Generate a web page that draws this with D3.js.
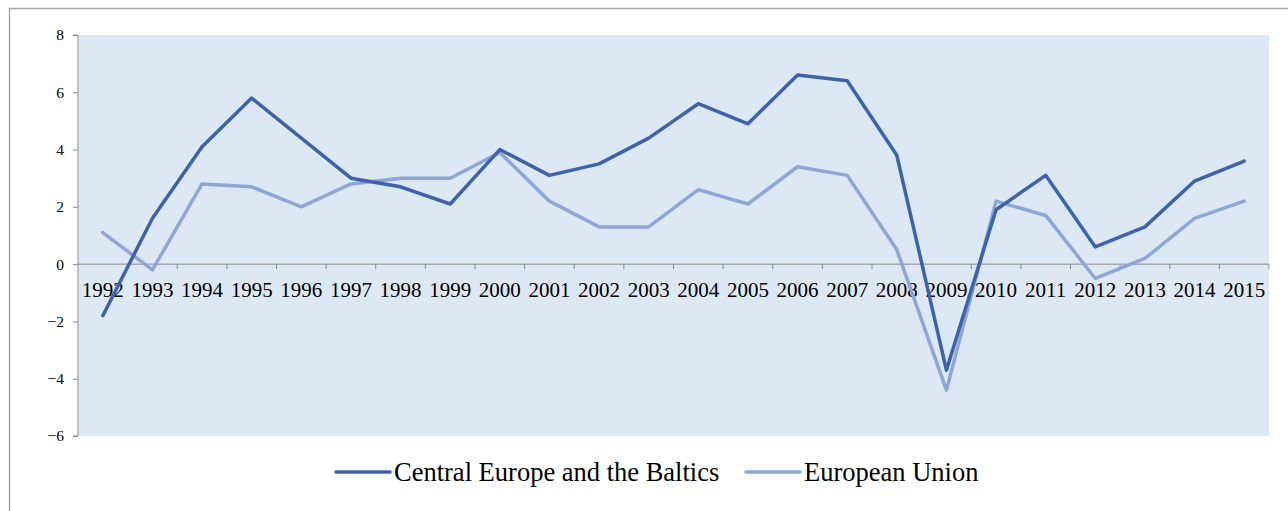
<!DOCTYPE html>
<html>
<head>
<meta charset="utf-8">
<script src="https://cdn.jsdelivr.net/npm/d3@7"></script>
<style>
  body { margin: 0; background: #fff; }
  svg { display: block; }
  svg text { font-family: "Liberation Serif", "Times New Roman", serif; fill: #000; }
</style>
</head>
<body>
<svg id="chart" width="1288" height="511"></svg>
<script>
// years on the category axis
var years = ["1992","1993","1994","1995","1996","1997","1998","1999","2000","2001","2002","2003",
             "2004","2005","2006","2007","2008","2009","2010","2011","2012","2013","2014","2015"];

// GDP growth, %
var centralEurope = [-1.8, 1.6, 4.1, 5.8, 4.4, 3.0, 2.7, 2.1, 4.0, 3.1, 3.5, 4.4,
                     5.6, 4.9, 6.6, 6.4, 3.8, -3.7, 1.9, 3.1, 0.6, 1.3, 2.9, 3.6];
var europeanUnion = [1.1, -0.2, 2.8, 2.7, 2.0, 2.8, 3.0, 3.0, 3.9, 2.2, 1.3, 1.3,
                     2.6, 2.1, 3.4, 3.1, 0.5, -4.4, 2.2, 1.7, -0.5, 0.2, 1.6, 2.2];

var yTicks = [-6, -4, -2, 0, 2, 4, 6, 8];

var series = [
    { name: "Central Europe and the Baltics", values: centralEurope, color: "#3d63ae" },
    { name: "European Union", values: europeanUnion, color: "#8fa6d8" }
];

var svg = d3.select("#chart");

var plot = { left: 78, right: 1269, top: 35, bottom: 436 };

var x = d3.scaleBand().domain(years).range([plot.left, plot.right]);
var y = d3.scaleLinear().domain([-6, 8]).range([plot.bottom, plot.top]);

// outer chart border (left and top visible)
svg.append("path")
    .attr("d", "M9.5,511 V8.5 H1288")
    .attr("fill", "none")
    .attr("stroke", "#a6a6a6")
    .attr("stroke-width", 1.5);

// plot background
svg.append("rect")
    .attr("x", plot.left)
    .attr("y", plot.top)
    .attr("width", plot.right - plot.left)
    .attr("height", plot.bottom - plot.top)
    .attr("fill", "#dde8f5");

// y axis
var yAxis = svg.append("g")
    .attr("transform", "translate(" + plot.left + ",0)")
    .call(d3.axisLeft(y).tickValues(yTicks).tickSize(5).tickPadding(9).tickFormat(d3.format("d")));
yAxis.attr("font-family", null).attr("font-size", null);
yAxis.select(".domain").attr("stroke", "#8c8c8c").attr("d", "M-5," + y(8) + "H0V" + y(-6) + "H-5");
yAxis.selectAll(".tick line").attr("stroke", "#8c8c8c");
yAxis.selectAll("text")
    .attr("fill", "#000")
    .style("font-size", "15.5px");

// category axis at zero, ticks between categories
var xg = svg.append("g");
xg.append("line")
    .attr("x1", plot.left).attr("x2", plot.right)
    .attr("y1", y(0)).attr("y2", y(0))
    .attr("stroke", "#8c8c8c").attr("stroke-width", 1);
var bounds = years.map(function (d) { return x(d); }).concat([plot.right]);
xg.selectAll("line.tk")
    .data(bounds.slice(1))
  .enter().append("line")
    .attr("class", "tk")
    .attr("x1", function (d) { return d; })
    .attr("x2", function (d) { return d; })
    .attr("y1", y(0))
    .attr("y2", y(0) + 5)
    .attr("stroke", "#8c8c8c");
xg.selectAll("text")
    .data(years)
  .enter().append("text")
    .attr("x", function (d) { return x(d) + x.bandwidth() / 2; })
    .attr("y", y(0) + 33)
    .attr("text-anchor", "middle")
    .style("font-size", "21px")
    .text(function (d) { return d; });

// lines
var line = d3.line()
    .x(function (d, i) { return x(years[i]) + x.bandwidth() / 2; })
    .y(function (d) { return y(d); });

svg.selectAll("path.series")
    .data(series.slice().reverse())
  .enter().append("path")
    .attr("class", "series")
    .attr("fill", "none")
    .attr("stroke", function (d) { return d.color; })
    .attr("stroke-width", 3.5)
    .attr("stroke-linejoin", "round")
    .attr("stroke-linecap", "round")
    .attr("d", function (d) { return line(d.values); });

// legend
var legendX = [336, 746];
var leg = svg.selectAll("g.legend")
    .data(series)
  .enter().append("g")
    .attr("class", "legend")
    .attr("transform", function (d, i) { return "translate(" + legendX[i] + ",472)"; });
leg.append("line")
    .attr("x1", 0).attr("x2", 54)
    .attr("stroke", function (d) { return d.color; })
    .attr("stroke-width", 3.5)
    .attr("stroke-linecap", "round");
leg.append("text")
    .attr("x", 58)
    .attr("y", 9)
    .style("font-size", "26.5px")
    .text(function (d) { return d.name; });
</script>
</body>
</html>
